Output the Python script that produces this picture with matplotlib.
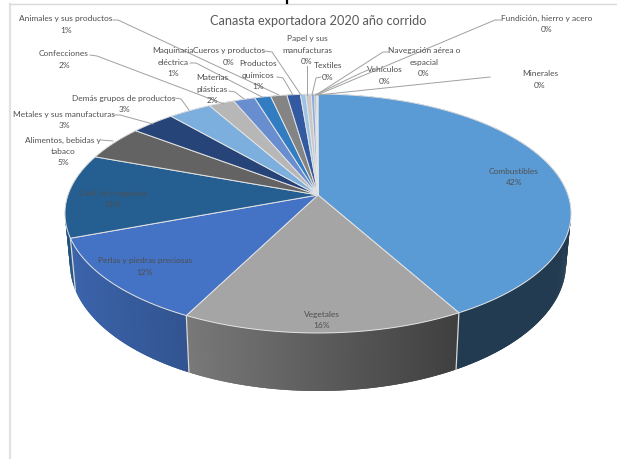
import numpy as np
import matplotlib
matplotlib.use('Agg')
import matplotlib.pyplot as plt
from matplotlib.collections import PolyCollection
from matplotlib.patches import Polygon

# chart data, clockwise from the top of the pie
categories = ['Combustibles', 'Vegetales', 'Perlas y piedras preciosas', 'Café, té y especias',
              'Alimentos, bebidas y tabaco', 'Metales y sus manufacturas', 'Demás grupos de productos',
              'Confecciones', 'Materias plásticas', 'Maquinaria eléctrica', 'Animales y sus productos',
              'Productos químicos', 'Cueros y productos', 'Papel y sus manufacturas', 'Textiles',
              'Vehículos', 'Navegación aérea o espacial', 'Fundición, hierro y acero', 'Minerales']
values = [41.9, 15.6, 11.8, 11.3, 4.7, 3.3, 3.2, 1.9, 1.6, 1.2, 1.2, 1.0, 0.4, 0.4, 0.25, 0.1, 0.05, 0.05, 0.05]
colors = ['#5B9BD5', '#A5A5A5', '#4472C4', '#255E91', '#636363', '#264478', '#7CAFDD', '#B7B7B7', '#698ED0',
          '#327DC2', '#848484', '#335AA1', '#9DC3E6', '#C9C9C9', '#8FAADC', '#1F4E79', '#7B7B7B', '#2F5597', '#B4C7E7']

# label layout: text lines, centre x, first line y, leader points
label_layout = {
    'Combustibles': (['Combustibles'], 514, 171, None),
    'Vegetales': (['Vegetales'], 322, 314, None),
    'Perlas y piedras preciosas': (['Perlas y piedras preciosas'], 145, 261, None),
    'Café, té y especias': (['Café, té y especias'], 113, 193, None),
    'Alimentos, bebidas y tabaco': (['Alimentos, bebidas y', 'tabaco'], 63, 140, [(101, 140), (113, 141)]),
    'Metales y sus manufacturas': (['Metales y sus manufacturas'], 64, 114, [(114, 115), (120, 115), (153, 124)]),
    'Demás grupos de productos': (['Demás grupos de productos'], 124, 98, [(175, 98), (181, 99), (189, 110)]),
    'Confecciones': (['Confecciones'], 64, 54, [(90, 55), (97, 56), (224, 104)]),
    'Materias plásticas': (['Materias', 'plásticas'], 212, 78, [(229, 91), (235, 92), (244, 99)]),
    'Maquinaria eléctrica': (['Maquinaria', 'eléctrica'], 173, 51, [(190, 63), (196, 63), (262, 97)]),
    'Animales y sus productos': (['Animales y sus productos'], 66, 19, [(113, 20), (118, 20), (279, 95)]),
    'Productos químicos': (['Productos', 'químicos'], 258, 64, [(277, 77), (283, 78), (293, 95)]),
    'Cueros y productos': (['Cueros y productos'], 229, 51, [(265, 51), (272, 52), (301, 95)]),
    'Papel y sus manufacturas': (['Papel y sus', 'manufacturas'], 307, 39, [(307, 66), (307, 95)]),
    'Textiles': (['Textiles'], 328, 66, [(321, 77), (316, 78), (312, 95)]),
    'Vehículos': (['Vehículos'], 385, 70, [(368, 70), (361, 73), (315, 95)]),
    'Navegación aérea o espacial': (['Navegación aérea o', 'espacial'], 424, 51, [(388, 52), (383, 52), (316, 95)]),
    'Fundición, hierro y acero': (['Fundición, hierro y acero'], 547, 18, [(501, 20), (495, 20), (317, 95)]),
    'Minerales': (['Minerales'], 540, 74, [(490, 77), (318, 95)]),
}

plt.rcParams['font.family'] = ['Lato', 'DejaVu Sans']

# pie seen in perspective: apex, half width, tilt and wall depth in pixels
apex_x, apex_y = 318, 195
half_w, tilt_a, tilt_k, wall_d = 250, 116.6, 0.155, 49
bottom_shrink = 0.98  # the lower rim is a bit narrower than the top one


def project(angle):
    u, v = np.sin(angle), np.cos(angle)
    w = 1 + tilt_k * v
    return apex_x + half_w * u / w, apex_y - tilt_a * v / w, wall_d / w


def project_bottom(angle):
    x, y, d = project(angle)
    return apex_x + (x - apex_x) * bottom_shrink, y + d


def wall_shade(x):
    return np.interp(x, [65, 186, 460, 571], [0.88, 0.73, 0.38, 0.38])


fig = plt.figure(figsize=(6.17, 4.59), dpi=100)
ax = fig.add_axes([0, 0, 1, 1])
ax.set_xlim(0, 617)
ax.set_ylim(459, 0)
ax.axis('off')

# frame of the pasted chart
ax.plot([10, 10], [4, 459], color='#E2E2E2', lw=1.6)
ax.plot([10, 617], [4, 4], color='#DADADA', lw=1.0)
ax.plot([287, 287], [0, 3], color='black', lw=1.6)

ax.text(318, 21, 'Canasta exportadora 2020 año corrido', ha='center', va='center', fontsize=9.2, color='#595959')

edges = np.radians(np.cumsum([0] + values) / sum(values) * 360)
overlap = np.radians(0.6)

# side wall, drawn first so the top covers its back half
quads, quad_colors = [], []
for i in range(len(values)):
    angles = np.linspace(edges[i], edges[i + 1], max(2, int(values[i] * 8)))
    base = np.array(matplotlib.colors.to_rgb(colors[i]))
    for a0, a1 in zip(angles[:-1], angles[1:]):
        x0, y0, _ = project(a0)
        x1, y1, _ = project(a1 + overlap)
        bx0, by0 = project_bottom(a0)
        bx1, by1 = project_bottom(a1 + overlap)
        quads.append([(x0, y0), (x1, y1), (bx1, by1), (bx0, by0)])
        quad_colors.append(base * wall_shade((x0 + x1) / 2))
ax.add_collection(PolyCollection(quads, facecolors=quad_colors, edgecolors='none'))

for edge in edges:
    x, y, _ = project(edge)
    bx, by = project_bottom(edge)
    if np.cos(edge) < 0:
        ax.plot([x, bx], [y, by], color='#D9D9D9', lw=0.9)

# top surface
for i in range(len(values)):
    angles = np.linspace(edges[i], edges[i + 1], max(2, int(values[i] * 6)))
    x, y, _ = project(angles)
    points = [(apex_x, apex_y)] + list(zip(x, y))
    ax.add_patch(Polygon(points, closed=True, facecolor=colors[i], edgecolor='#E4E4E4', lw=0.7))

# leaders and labels
for name, value in zip(categories, values):
    lines, tx, ty, leader = label_layout[name]
    if leader:
        ax.plot([p[0] for p in leader], [p[1] for p in leader], color='#A0A0A0', lw=0.7)
    for n, line in enumerate(lines + ['%d%%' % round(value)]):
        ax.text(tx, ty + n * 11.3, line, ha='center', va='center', fontsize=6.0, color='#4F4F4F')

plt.savefig('out.png', dpi=100)
